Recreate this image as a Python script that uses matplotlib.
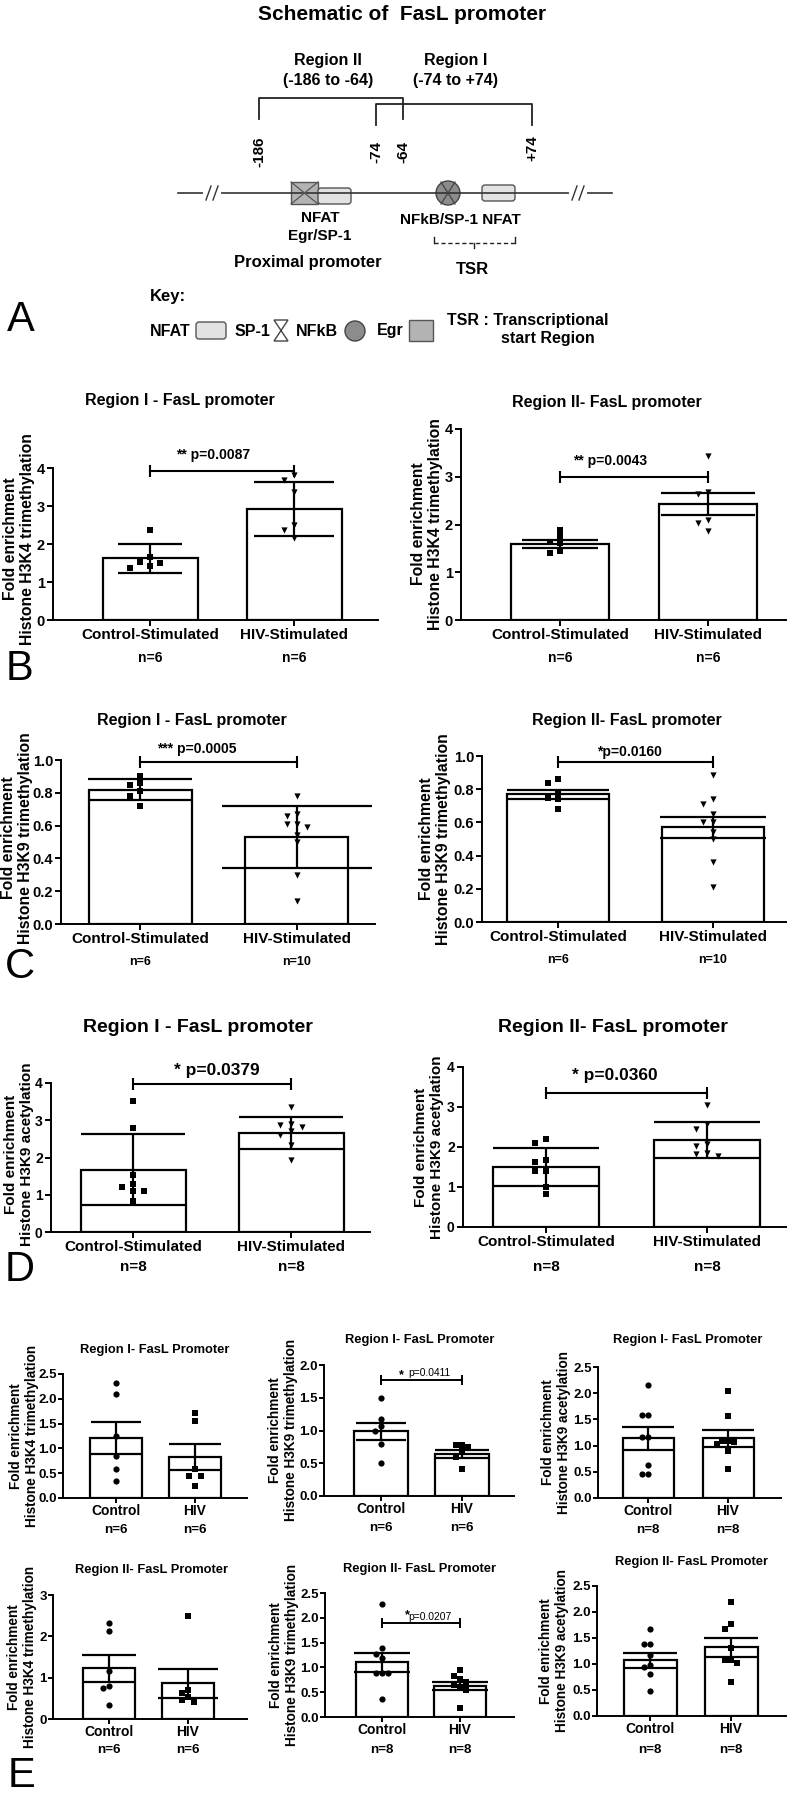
# -*- coding: utf-8 -*-
"""
FasL promoter schematic + histone ChIP fold-enrichment bar charts (panels A-E).
Output: out.png (788 x 1800 px)
"""
import matplotlib
matplotlib.use('Agg')

import numpy as np
import matplotlib.pyplot as plt
from matplotlib.patches import Rectangle, FancyBboxPatch, Circle, Polygon

plt.rcParams['font.family'] = ['Liberation Sans', 'DejaVu Sans']
plt.rcParams['font.weight'] = 'bold'

# ─────────────────────────────────────────────────────────────────────────────
# Data
# ─────────────────────────────────────────────────────────────────────────────
stim_labels = ['Control-Stimulated', 'HIV-Stimulated']
short_labels = ['Control', 'HIV']

# B - H3K4 trimethylation
b1_mean, b1_err = [1.62, 2.92], [0.37, 0.72]
b1_ctrl = [2.36, 1.53, 1.51, 1.66, 1.42, 1.36]
b1_hiv = [3.81, 3.68, 3.37, 2.51, 2.36, 2.17]
b1_n = ['n=6', 'n=6']

b2_mean, b2_err = [1.60, 2.43], [0.085, 0.23]
b2_ctrl = [1.89, 1.75, 1.61, 1.64, 1.40, 1.45]
b2_hiv = [3.43, 2.69, 2.64, 2.10, 2.04, 1.87]
b2_n = ['n=6', 'n=6']

# C - H3K9 trimethylation
c1_mean, c1_err = [0.82, 0.53], [0.065, 0.19]
c1_ctrl = [0.90, 0.86, 0.85, 0.81, 0.78, 0.72]
c1_hiv = [0.78, 0.67, 0.66, 0.61, 0.61, 0.59, 0.54, 0.50, 0.30, 0.14]
c1_n = ['n=6', 'n=10']

c2_mean, c2_err = [0.77, 0.57], [0.028, 0.062]
c2_ctrl = [0.86, 0.84, 0.78, 0.74, 0.75, 0.68]
c2_hiv = [0.885, 0.74, 0.71, 0.65, 0.60, 0.60, 0.54, 0.50, 0.36, 0.21]
c2_n = ['n=6', 'n=10']

# D - H3K9 acetylation
d1_mean, d1_err = [1.67, 2.66], [0.95, 0.42]
d1_ctrl = [3.51, 2.80, 1.52, 1.20, 1.29, 1.11, 1.11, 0.84]
d1_hiv = [3.36, 2.91, 2.82, 2.87, 2.72, 2.60, 2.33, 1.93]
d1_n = ['n=8', 'n=8']

d2_mean, d2_err = [1.50, 2.17], [0.48, 0.45]
d2_ctrl = [2.09, 2.19, 1.63, 1.68, 1.39, 1.39, 1.01, 0.83]
d2_hiv = [3.05, 2.46, 2.57, 2.07, 2.02, 1.84, 1.78, 1.82]
d2_n = ['n=8', 'n=8']

# E - unstimulated cells
e1_mean, e1_err = [1.21, 0.82], [0.33, 0.26]
e1_ctrl = [2.31, 2.10, 1.25, 0.84, 0.59, 0.34]
e1_hiv = [1.71, 1.56, 0.58, 0.45, 0.45, 0.25]
e1_n = ['n=6', 'n=6']

e2_mean, e2_err = [0.99, 0.64], [0.13, 0.06]
e2_ctrl = [1.50, 1.17, 1.07, 1.00, 0.79, 0.51]
e2_hiv = [0.78, 0.75, 0.78, 0.68, 0.59, 0.41]
e2_n = ['n=6', 'n=6']

e3_mean, e3_err = [1.14, 1.14], [0.22, 0.165]
e3_ctrl = [2.16, 1.59, 1.58, 1.17, 1.16, 0.63, 0.46, 0.46]
e3_hiv = [2.04, 1.57, 1.09, 1.04, 1.06, 1.09, 0.89, 0.56]
e3_n = ['n=8', 'n=8']

e4_mean, e4_err = [1.23, 0.86], [0.33, 0.34]
e4_ctrl = [2.33, 2.13, 1.15, 0.81, 0.76, 0.34]
e4_hiv = [2.50, 0.64, 0.70, 0.54, 0.40, 0.46]
e4_n = ['n=6', 'n=6']

e5_mean, e5_err = [1.10, 0.63], [0.20, 0.085]
e5_ctrl = [2.28, 1.39, 1.28, 1.18, 0.88, 0.88, 0.88, 0.37]
e5_hiv = [0.95, 0.82, 0.77, 0.70, 0.65, 0.60, 0.55, 0.19]
e5_n = ['n=8', 'n=8']

e6_mean, e6_err = [1.07, 1.32], [0.14, 0.18]
e6_ctrl = [1.68, 1.39, 1.39, 1.17, 0.98, 0.94, 0.80, 0.48]
e6_hiv = [2.20, 1.77, 1.68, 1.30, 1.08, 1.08, 1.02, 0.65]
e6_n = ['n=8', 'n=8']

# ─────────────────────────────────────────────────────────────────────────────
# Figure + full-size overlay (pixel coordinates) for schematic and free text
# ─────────────────────────────────────────────────────────────────────────────
W, H = 788, 1800
fig = plt.figure(figsize=(W / 100, H / 100), dpi=100)
ov = fig.add_axes([0, 0, 1, 1])
ov.set_xlim(0, W)
ov.set_ylim(H, 0)
ov.axis('off')


def txt(x, y, s, fs, **kw):
    kw.setdefault('ha', 'center')
    kw.setdefault('va', 'center')
    ov.text(x, y, s, fontsize=fs, **kw)


def swarm(vals, ppu, step_px, min_px):
    # simple GraphPad-like scatter: centre first, then left / right
    vals = np.asarray(vals, float)
    offs = np.zeros(len(vals))
    placed = []
    for i in np.argsort(-vals):
        y = vals[i] * ppu
        for slot in (0, -1, 1, -2, 2):
            if all(ps != slot or abs(y - py) >= min_px for py, ps in placed):
                offs[i] = slot * step_px
                placed.append((y, slot))
                break
    return offs


def make_axes(x0, ytop, x1, ybot, c0, c1, ymax, tlen=4, tpad=2):
    ax = fig.add_axes([x0 / W, 1 - ybot / H, (x1 - x0) / W, (ybot - ytop) / H])
    ux = c1 - c0
    ax.set_xlim((x0 - c0) / ux, (x1 - c0) / ux)
    ax.set_ylim(0, ymax)
    ax.patch.set_alpha(0)
    for s in ('top', 'right'):
        ax.spines[s].set_visible(False)
    for s in ('left', 'bottom'):
        ax.spines[s].set_linewidth(1.4)
    ax.tick_params(width=1.4, length=tlen, pad=tpad)
    return ax, ux, (ybot - ytop) / ymax


def draw(ax, ux, uy, means, errs, ctrl, hiv, markers, bar_px, cap_px, step_px,
         yticks, yfmt, tick_fs, xlabels, x_fs, n_labels, n_fs, n_off, ms=20):
    x = np.arange(2)
    ax.bar(x, means, width=bar_px / ux, color='white', edgecolor='black',
           linewidth=1.6, zorder=1)
    for i, pts in enumerate([ctrl, hiv]):
        offs = swarm(pts, uy, step_px, 6.5) / ux
        ax.scatter(i + offs, pts, marker=markers[i], s=ms, color='black',
                   linewidths=0, zorder=3, clip_on=False)
        ax.errorbar(i, means[i], yerr=errs[i], fmt='none', ecolor='black',
                    elinewidth=1.6, capsize=cap_px[i] * 0.72, capthick=1.6, zorder=4)
    ax.set_yticks(yticks)
    ax.set_yticklabels([yfmt.format(t) for t in yticks], fontsize=tick_fs,
                       fontweight='bold')
    ax.set_xticks(x)
    ax.set_xticklabels(xlabels, fontsize=x_fs, fontweight='bold')
    for i in range(2):
        ax.annotate(n_labels[i], (i, 0), xycoords=('data', 'axes fraction'),
                    xytext=(0, -n_off * 0.72), textcoords='offset points',
                    ha='center', va='center', fontsize=n_fs, fontweight='bold')


def sig(ax, y, text, tx, ty, fs):
    ax.plot([0, 1], [y, y], color='black', lw=1.5, marker='|', ms=8, mew=1.5,
            clip_on=False, zorder=5)
    ax.text(tx, ty, text, ha='center', va='center', fontsize=fs,
            fontweight='bold', clip_on=False)


# ─────────────────────────────────────────────────────────────────────────────
# A.  Schematic of FasL promoter
# ─────────────────────────────────────────────────────────────────────────────
txt(402, 14, 'Schematic of  FasL promoter', 15)
txt(328, 61, 'Region II', 11.5)
txt(328, 81, '(-186 to -64)', 11.5)
txt(456, 61, 'Region I', 11.5)
txt(456, 81, '(-74 to +74)', 11.5)
ov.plot([259, 259, 403, 403], [119, 98, 98, 119], color='#222', lw=1.3)
ov.plot([376, 376, 532, 532], [125, 104, 104, 125], color='#222', lw=1.3)
for xp, yp, s in [(259, 152, '-186'), (376, 152, '-74'), (403, 152, '-64'),
                  (532, 148, '+74')]:
    txt(xp, yp, s, 11, rotation=90)

ov.plot([178, 612], [193, 193], color='#333', lw=1.2)
for bx in (212, 578):
    ov.plot([bx - 7, bx + 7], [193, 193], color='white', lw=3)
    ov.plot([bx - 6, bx - 1], [200, 186], color='#333', lw=1)
    ov.plot([bx + 1, bx + 6], [200, 186], color='#333', lw=1)

ov.add_patch(Rectangle((291, 182), 27, 22, fc='#b3b3b3', ec='#555', lw=1))
ov.plot([291, 318], [182, 204], color='#555', lw=0.9)
ov.plot([291, 318], [204, 182], color='#555', lw=0.9)
ov.add_patch(FancyBboxPatch((318, 188), 33, 16, boxstyle='round,pad=0,rounding_size=3',
                            fc='#e2e2e2', ec='#555', lw=1))
ov.add_patch(Circle((448, 193), 12, fc='#8c8c8c', ec='#444', lw=1))
ov.plot([441, 455], [182, 204], color='#444', lw=0.9)
ov.plot([455, 441], [182, 204], color='#444', lw=0.9)
ov.add_patch(FancyBboxPatch((482, 185), 33, 16, boxstyle='round,pad=0,rounding_size=3',
                            fc='#e2e2e2', ec='#555', lw=1))

txt(320, 218, 'NFAT', 11)
txt(320, 236, 'Egr/SP-1', 11)
txt(460, 220, 'NFkB/SP-1 NFAT', 11)
ov.plot([434, 434], [237, 243], color='#222', lw=1)
ov.plot([515, 515], [237, 243], color='#222', lw=1)
ov.plot([434, 515], [243, 243], color='#222', lw=1, ls=(0, (3, 2)))
ov.plot([474, 474], [243, 248], color='#222', lw=1)
txt(308, 263, 'Proximal promoter', 12)
txt(472, 270, 'TSR', 12)

txt(150, 297, 'Key:', 12, ha='left')
txt(150, 331, 'NFAT', 11.5, ha='left')
ov.add_patch(FancyBboxPatch((196, 322), 30, 17, boxstyle='round,pad=0,rounding_size=3',
                            fc='#e2e2e2', ec='#555', lw=1))
txt(235, 331, 'SP-1', 11.5, ha='left')
ov.add_patch(Polygon([(274, 320), (288, 320), (274, 341), (288, 341)], closed=True,
                     fc='white', ec='#444', lw=1))
txt(296, 331, 'NFkB', 11.5, ha='left')
ov.add_patch(Circle((355, 331), 10, fc='#8c8c8c', ec='#444', lw=1))
txt(377, 331, 'Egr', 11.5, ha='left')
ov.add_patch(Rectangle((409, 320), 24, 21, fc='#b3b3b3', ec='#555', lw=1))
txt(447, 320, 'TSR : Transcriptional', 11.5, ha='left')
txt(548, 339, 'start Region', 11.5)

# panel letters
for lx, ly, s in [(21, 320, 'A'), (20, 669, 'B'), (20, 967, 'C'), (20, 1270, 'D'),
                  (22, 1776, 'E')]:
    txt(lx, ly, s, 30, fontweight='normal')

# ─────────────────────────────────────────────────────────────────────────────
# B.  H3K4me3, stimulated cells
# ─────────────────────────────────────────────────────────────────────────────
k4 = 'Fold enrichment\nHistone H3K4 trimethylation'
k9 = 'Fold enrichment\nHistone H3K9 trimethylation'
ac = 'Fold enrichment\nHistone H3K9 acetylation'
tri_sq = ['s', 'v']
circ_sq = ['o', 's']

ax, ux, uy = make_axes(53, 468, 378, 620, 150, 294, 4)
draw(ax, ux, uy, b1_mean, b1_err, b1_ctrl, b1_hiv, tri_sq, 95, [32, 40], 10,
     [0, 1, 2, 3, 4], '{:.0f}', 10.5, stim_labels, 11, b1_n, 10, 38)
sig(ax, 3.92, '** p=0.0087', 0.44, 4.33, 10)
txt(180, 400, 'Region I - FasL promoter', 11.5)
txt(19, 539, k4, 11.3, rotation=90, linespacing=1.2)

ax, ux, uy = make_axes(461, 429, 786, 620, 560, 708, 4)
draw(ax, ux, uy, b2_mean, b2_err, b2_ctrl, b2_hiv, tri_sq, 98, [38, 47], 10,
     [0, 1, 2, 3, 4], '{:.0f}', 10.5, stim_labels, 11, b2_n, 10, 38)
sig(ax, 3.0, '** p=0.0043', 0.34, 3.32, 10)
txt(607, 402, 'Region II- FasL promoter', 11.5)
txt(427, 524, k4, 11.3, rotation=90, linespacing=1.2)

# ─────────────────────────────────────────────────────────────────────────────
# C.  H3K9me3, stimulated cells
# ─────────────────────────────────────────────────────────────────────────────
ax, ux, uy = make_axes(61, 760, 375, 924, 140, 297, 1.0, tpad=1.5)
draw(ax, ux, uy, c1_mean, c1_err, c1_ctrl, c1_hiv, tri_sq, 103, [52, 75], 10,
     [0, 0.2, 0.4, 0.6, 0.8, 1.0], '{:.1f}', 10.5, stim_labels, 11, c1_n, 9, 38)
sig(ax, 0.99, '*** p=0.0005', 0.36, 1.065, 10)
txt(192, 720, 'Region I - FasL promoter', 11.5)
txt(17, 838, k9, 11.3, rotation=90, linespacing=1.2)

ax, ux, uy = make_axes(482, 756, 786, 922, 558, 713, 1.0, tpad=1.5)
draw(ax, ux, uy, c2_mean, c2_err, c2_ctrl, c2_hiv, tri_sq, 102, [51, 53], 10,
     [0, 0.2, 0.4, 0.6, 0.8, 1.0], '{:.1f}', 10.5, stim_labels, 11, c2_n, 9, 38)
sig(ax, 0.965, '*p=0.0160', 0.46, 1.025, 10)
txt(627, 720, 'Region II- FasL promoter', 11.5)
txt(435, 839, k9, 11.3, rotation=90, linespacing=1.2)

# ─────────────────────────────────────────────────────────────────────────────
# D.  H3K9ac, stimulated cells
# ─────────────────────────────────────────────────────────────────────────────
ax, ux, uy = make_axes(51, 1083, 370, 1232, 133, 291, 4)
draw(ax, ux, uy, d1_mean, d1_err, d1_ctrl, d1_hiv, tri_sq, 105, [52, 52], 11,
     [0, 1, 2, 3, 4], '{:.0f}', 10, stim_labels, 11, d1_n, 11, 35)
sig(ax, 3.96, '* p=0.0379', 0.53, 4.34, 12.5)
txt(198, 1027, 'Region I - FasL promoter', 14)
txt(19, 1154, ac, 11, rotation=90, linespacing=1.2)

ax, ux, uy = make_axes(463, 1067, 786, 1227, 546, 707, 4)
draw(ax, ux, uy, d2_mean, d2_err, d2_ctrl, d2_hiv, tri_sq, 106, [53, 53], 11,
     [0, 1, 2, 3, 4], '{:.0f}', 10, stim_labels, 11, d2_n, 11, 40)
sig(ax, 3.34, '* p=0.0360', 0.43, 3.79, 12.5)
txt(613, 1028, 'Region II- FasL promoter', 14)
txt(429, 1147, ac, 11, rotation=90, linespacing=1.2)

# ─────────────────────────────────────────────────────────────────────────────
# E.  Unstimulated cells, 2 x 3 grid
# ─────────────────────────────────────────────────────────────────────────────
t25 = [0, 0.5, 1.0, 1.5, 2.0, 2.5]
e_tick = 9.5
e_lab = 9.8

ax, ux, uy = make_axes(63, 1374, 247, 1498, 116, 195, 2.5, tlen=3.5, tpad=1)
draw(ax, ux, uy, e1_mean, e1_err, e1_ctrl, e1_hiv, circ_sq, 52, [25, 26], 5.7,
     t25, '{:.1f}', e_tick, short_labels, 10, e1_n, 9.6, 32)
txt(155, 1350, 'Region I- FasL Promoter', 9.3)
txt(24, 1436, k4, e_lab, rotation=90, linespacing=1.2)

ax, ux, uy = make_axes(324, 1365, 514, 1496, 381, 462, 2.0, tlen=3.5, tpad=1)
draw(ax, ux, uy, e2_mean, e2_err, e2_ctrl, e2_hiv, circ_sq, 54, [25, 27], 5.7,
     [0, 0.5, 1.0, 1.5, 2.0], '{:.1f}', e_tick, short_labels, 10, e2_n, 9.6, 32)
ax.plot([0, 1], [1.77, 1.77], color='black', lw=1.4, marker='|', ms=7, mew=1.4, zorder=5)
ax.text(0.25, 1.84, '*', ha='center', va='center', fontsize=9)
ax.text(0.6, 1.88, 'p=0.0411', ha='center', va='center', fontsize=7.4, fontweight='normal')
txt(420, 1340, 'Region I- FasL Promoter', 9.3)
txt(283, 1430, k9, e_lab, rotation=90, linespacing=1.2)

ax, ux, uy = make_axes(598, 1367, 781, 1498, 648, 728, 2.5, tlen=3.5, tpad=1)
draw(ax, ux, uy, e3_mean, e3_err, e3_ctrl, e3_hiv, circ_sq, 51, [26, 26], 5.7,
     t25, '{:.1f}', e_tick, short_labels, 10, e3_n, 9.6, 32)
txt(688, 1340, 'Region I- FasL Promoter', 9.3)
txt(556, 1432, ac, e_lab, rotation=90, linespacing=1.2)

ax, ux, uy = make_axes(53, 1595, 247, 1719, 109, 188, 3, tlen=3.5, tpad=1)
draw(ax, ux, uy, e4_mean, e4_err, e4_ctrl, e4_hiv, circ_sq, 52, [27, 30], 5.7,
     [0, 1, 2, 3], '{:.0f}', e_tick, short_labels, 10, e4_n, 9.6, 31)
txt(152, 1570, 'Region II- FasL Promoter', 9.3)
txt(22, 1657, k4, e_lab, rotation=90, linespacing=1.2)

ax, ux, uy = make_axes(325, 1593, 514, 1717, 382, 460, 2.5, tlen=3.5, tpad=1)
draw(ax, ux, uy, e5_mean, e5_err, e5_ctrl, e5_hiv, circ_sq, 52, [28, 28], 5.7,
     t25, '{:.1f}', e_tick, short_labels, 10, e5_n, 9.6, 33)
ax.plot([0, 1], [1.89, 1.89], color='black', lw=1.4, marker='|', ms=7, mew=1.4, zorder=5)
ax.text(0.32, 2.05, '*', ha='center', va='center', fontsize=9)
ax.text(0.62, 2.01, 'p=0.0207', ha='center', va='center', fontsize=7.4, fontweight='normal')
txt(420, 1569, 'Region II- FasL Promoter', 9.3)
txt(284, 1655, k9, e_lab, rotation=90, linespacing=1.2)

ax, ux, uy = make_axes(597, 1586, 786, 1716, 650, 731, 2.5, tlen=3.5, tpad=1)
draw(ax, ux, uy, e6_mean, e6_err, e6_ctrl, e6_hiv, circ_sq, 53, [27, 27], 5.7,
     t25, '{:.1f}', e_tick, short_labels, 10, e6_n, 9.6, 34)
txt(692, 1562, 'Region II- FasL Promoter', 9.3)
txt(554, 1651, ac, e_lab, rotation=90, linespacing=1.2)

fig.savefig('out.png', dpi=100)
plt.close(fig)
